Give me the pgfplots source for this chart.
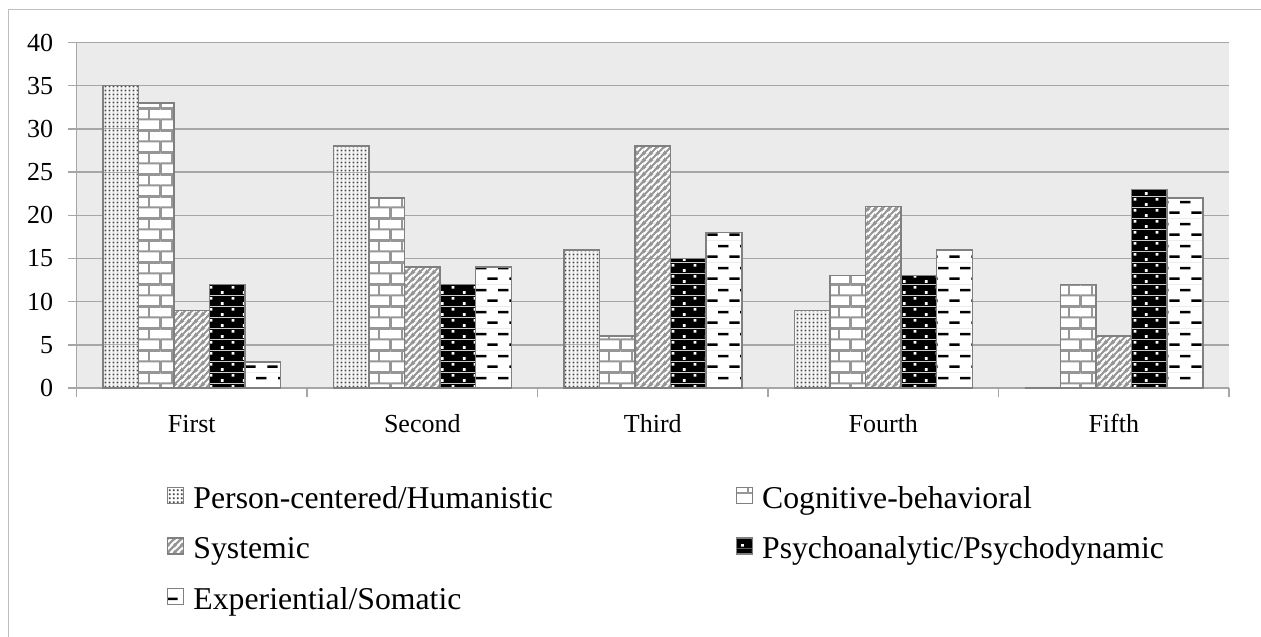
\documentclass[border=0pt]{standalone}
\usepackage{fontspec}
\setmainfont{Liberation Serif}
\usepackage{pgfplots}
\pgfplotsset{compat=1.18}
\usetikzlibrary{patterns}
\definecolor{bgc}{RGB}{235,235,235}
\definecolor{gridc}{RGB}{166,166,166}
\definecolor{edgec}{RGB}{128,128,128}
\definecolor{framec}{RGB}{190,190,190}
\definecolor{dotc}{RGB}{70,70,70}
\definecolor{mortar}{RGB}{150,150,150}
\definecolor{diagc}{RGB}{150,150,150}

% person-centered: fine gray dots on white
\pgfdeclarepatterninherentlycolored{pcdots}{\pgfpointorigin}{\pgfqpoint{3pt}{3pt}}{\pgfqpoint{3pt}{3pt}}{%
  \pgfsetfillcolor{white}\pgfpathrectangle{\pgfpointorigin}{\pgfqpoint{3pt}{3pt}}\pgfusepath{fill}%
  \pgfsetfillcolor{dotc}\pgfpathrectangle{\pgfqpoint{0.7pt}{0.7pt}}{\pgfqpoint{1.6pt}{1.6pt}}\pgfusepath{fill}}
% cognitive-behavioral: bricks
\pgfdeclarepatterninherentlycolored{cbbricks}{\pgfpointorigin}{\pgfqpoint{17.25pt}{16.5pt}}{\pgfqpoint{17.25pt}{16.5pt}}{%
  \pgfsetfillcolor{white}\pgfpathrectangle{\pgfpointorigin}{\pgfqpoint{17.25pt}{16.5pt}}\pgfusepath{fill}%
  \pgfsetstrokecolor{mortar}\pgfsetlinewidth{1.5pt}%
  \pgfpathmoveto{\pgfqpoint{0pt}{0pt}}\pgfpathlineto{\pgfqpoint{17.25pt}{0pt}}%
  \pgfpathmoveto{\pgfqpoint{0pt}{8.25pt}}\pgfpathlineto{\pgfqpoint{17.25pt}{8.25pt}}%
  \pgfpathmoveto{\pgfqpoint{0pt}{16.5pt}}\pgfpathlineto{\pgfqpoint{17.25pt}{16.5pt}}%
  \pgfpathmoveto{\pgfqpoint{0pt}{0pt}}\pgfpathlineto{\pgfqpoint{0pt}{8.25pt}}%
  \pgfpathmoveto{\pgfqpoint{17.25pt}{0pt}}\pgfpathlineto{\pgfqpoint{17.25pt}{8.25pt}}%
  \pgfpathmoveto{\pgfqpoint{8.625pt}{8.25pt}}\pgfpathlineto{\pgfqpoint{8.625pt}{16.5pt}}%
  \pgfusepath{stroke}}
% systemic: gray diagonal lines
\pgfdeclarepatterninherentlycolored{sydiag}{\pgfpointorigin}{\pgfqpoint{5.25pt}{5.25pt}}{\pgfqpoint{5.25pt}{5.25pt}}{%
  \pgfsetfillcolor{white}\pgfpathrectangle{\pgfpointorigin}{\pgfqpoint{5.25pt}{5.25pt}}\pgfusepath{fill}%
  \pgfsetstrokecolor{diagc}\pgfsetlinewidth{1.8pt}%
  \pgfpathmoveto{\pgfqpoint{-1pt}{-1pt}}\pgfpathlineto{\pgfqpoint{6.25pt}{6.25pt}}%
  \pgfpathmoveto{\pgfqpoint{-2.625pt}{2.625pt}}\pgfpathlineto{\pgfqpoint{2.625pt}{7.875pt}}%
  \pgfpathmoveto{\pgfqpoint{2.625pt}{-2.625pt}}\pgfpathlineto{\pgfqpoint{7.875pt}{2.625pt}}%
  \pgfusepath{stroke}}
% psychoanalytic: black with white dots
\pgfdeclarepatterninherentlycolored{psdots}{\pgfpointorigin}{\pgfqpoint{16.25pt}{8.25pt}}{\pgfqpoint{16.25pt}{8.25pt}}{%
  \pgfsetfillcolor{black}\pgfpathrectangle{\pgfpointorigin}{\pgfqpoint{16.25pt}{8.25pt}}\pgfusepath{fill}%
  \pgfsetfillcolor{white}%
  \pgfpathrectangle{\pgfqpoint{3pt}{1pt}}{\pgfqpoint{2.1pt}{2.1pt}}%
  \pgfpathrectangle{\pgfqpoint{11.1pt}{5.1pt}}{\pgfqpoint{2.1pt}{2.1pt}}%
  \pgfusepath{fill}}
% experiential: black dashes on white
\pgfdeclarepatterninherentlycolored{exdash}{\pgfpointorigin}{\pgfqpoint{16.75pt}{16.5pt}}{\pgfqpoint{16.75pt}{16.5pt}}{%
  \pgfsetfillcolor{white}\pgfpathrectangle{\pgfpointorigin}{\pgfqpoint{16.75pt}{16.5pt}}\pgfusepath{fill}%
  \pgfsetfillcolor{black}%
  \pgfpathrectangle{\pgfqpoint{0.2pt}{3.2pt}}{\pgfqpoint{8pt}{1.9pt}}%
  \pgfpathrectangle{\pgfqpoint{8.6pt}{11.4pt}}{\pgfqpoint{8pt}{1.9pt}}%
  \pgfusepath{fill}}

\pgfplotsset{
  mylegend/.style={legend image code/.code={\draw[##1] (0pt,-1.8pt) rectangle (12pt,10.2pt);}},
}

\begin{document}
\begin{tikzpicture}
\useasboundingbox (0pt,0pt) rectangle (945.75pt,477pt);
\draw[framec, line width=1pt] (6.2pt,-2pt) -- (6.2pt,470pt) -- (947pt,470pt);
\begin{axis}[
  at={(57.4pt,186pt)}, anchor=south west,
  scale only axis, width=864.4pt, height=259.1pt,
  xmin=-0.5, xmax=4.5, ymin=0, ymax=40,
  ybar=0pt, bar width=0.1544,
  axis x line=bottom, axis y line=left,
  axis line style={-, gridc, line width=1.1pt},
  axis background/.style={fill=bgc},
  ymajorgrids, major grid style={gridc, line width=1.1pt},
  ytick={0,5,...,40},
  xtick={-0.5,0.5,...,4.5}, xticklabels={},
  extra x ticks={0,1,2,3,4},
  extra x tick labels={First,Second,Third,Fourth,Fifth},
  extra x tick style={major tick length=0pt, grid=none},
  tick align=outside, major tick length=6.4pt,
  tick style={gridc, line width=1.1pt},
  /pgf/number format/assume math mode=true,
  yticklabel style={font=\fontsize{19.5}{23}\selectfont, inner sep=0pt, xshift=-11pt},
  xticklabel style={font=\fontsize{19.5}{23}\selectfont, inner sep=0pt, text height=13.3pt, text depth=0pt, yshift=-20pt},
  every axis plot/.append style={draw=edgec, line width=1.1pt, mylegend},
  legend columns=2,
  legend cell align=left,
  legend style={at={(0.0785,-0.2853)}, anchor=north west, draw=none, fill=none,
    font=\fontsize{23.8}{28}\selectfont, inner sep=0pt, outer sep=0pt,
    row sep=16.4pt, nodes={inner sep=0pt, text height=16.3pt, text depth=5.2pt},
    /tikz/every odd column/.append style={column sep=6.75pt},
    /tikz/every even column/.append style={column sep=137pt}},
]
\addplot[pattern=pcdots] coordinates {(0,35) (1,28) (2,16) (3,9) (4,0)};
\addplot[pattern=cbbricks] coordinates {(0,33) (1,22) (2,6) (3,13) (4,12)};
\addplot[pattern=sydiag] coordinates {(0,9) (1,14) (2,28) (3,21) (4,6)};
\addplot[pattern=psdots] coordinates {(0,12) (1,12) (2,15) (3,13) (4,23)};
\addplot[pattern=exdash] coordinates {(0,3) (1,14) (2,18) (3,16) (4,22)};
\legend{Person-centered/Humanistic, Cognitive-behavioral, Systemic, Psychoanalytic/Psychodynamic, Experiential/Somatic}
\end{axis}
\end{tikzpicture}
\end{document}
